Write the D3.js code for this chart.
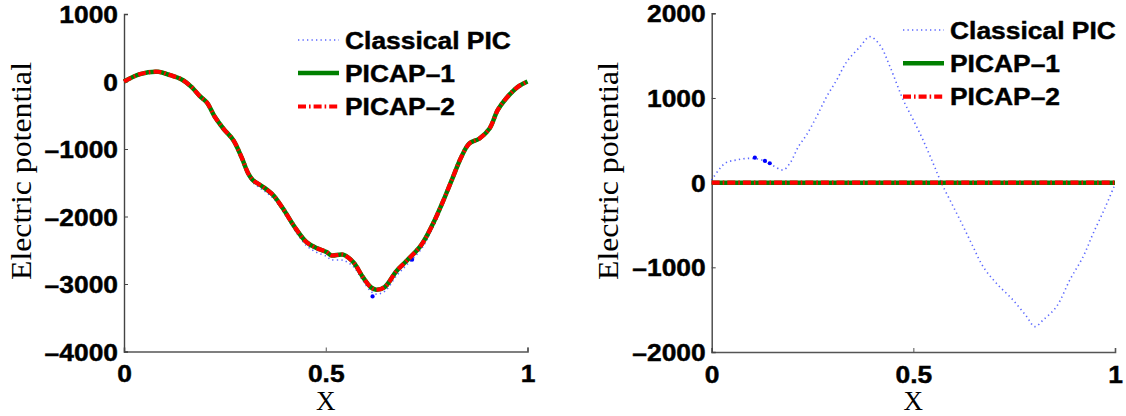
<!DOCTYPE html>
<html><head><meta charset="utf-8">
<script src="https://cdn.jsdelivr.net/npm/d3@7"></script>
<style>body{margin:0;background:#fff}</style>
</head><body>
<svg id="c" width="1126" height="416"></svg>
<script>
// ---------- data ----------
const seriesNames = ["Classical PIC", "PICAP\u20131", "PICAP\u20132"];

// Left panel
const leftX = [0, 0.04, 0.085, 0.114, 0.143, 0.167, 0.188, 0.206, 0.225, 0.246, 0.271, 0.291, 0.308, 0.320, 0.345, 0.370, 0.394, 0.423, 0.452, 0.477, 0.502, 0.514, 0.543, 0.568, 0.592, 0.612, 0.625, 0.646, 0.675, 0.700, 0.737, 0.766, 0.790, 0.815, 0.836, 0.856, 0.881, 0.906, 0.926, 0.947, 0.976, 1.0];
const leftClassical = [0, 110, 144, 95, 31, -79, -217, -320, -530, -705, -885, -1140, -1400, -1500, -1610, -1730, -1920, -2200, -2430, -2530, -2590, -2640, -2650, -2740, -2950, -3110, -3150, -3110, -2880, -2720, -2480, -2160, -1830, -1450, -1140, -935, -860, -710, -440, -262, -85, 0];
const leftPicap1 = [0, 110, 144, 95, 31, -79, -217, -316, -523, -696, -869, -1117, -1364, -1463, -1562, -1685, -1883, -2156, -2378, -2467, -2527, -2576, -2566, -2675, -2898, -3050, -3085, -3046, -2810, -2660, -2420, -2105, -1785, -1420, -1117, -918, -844, -696, -424, -251, -79, 0];
const leftPicap2 = leftPicap1.slice();
const leftMarkX = [0.616, 0.714];
const leftMarkV = [-3184, -2640];

// Right panel
const rightX = [0, 0.033, 0.062, 0.095, 0.124, 0.149, 0.177, 0.194, 0.215, 0.235, 0.260, 0.285, 0.310, 0.335, 0.368, 0.392, 0.417, 0.442, 0.475, 0.500, 0.524, 0.549, 0.570, 0.599, 0.624, 0.648, 0.673, 0.706, 0.747, 0.781, 0.801, 0.822, 0.855, 0.888, 0.921, 0.946, 0.975, 1.0];
const rightClassical = [30, 229, 268, 287, 268, 209, 150, 229, 425, 563, 779, 1015, 1213, 1429, 1606, 1724, 1626, 1370, 976, 740, 504, 229, -7, -283, -520, -756, -992, -1189, -1385, -1582, -1700, -1621, -1464, -1149, -874, -598, -300, -20];
const rightPicapX = [0, 1];
const rightPicap1 = [0, 0];
const rightPicap2 = [0, 0];
const rightMarkX = [0.107, 0.132, 0.144];
const rightMarkV = [295, 256, 229];

const xTicks = [0, 0.5, 1];
const xTickLabels = ["0", "0.5", "1"];
const leftYTicks = [1000, 0, -1000, -2000, -3000, -4000];
const rightYTicks = [2000, 1000, 0, -1000, -2000];

// ---------- drawing ----------
const svg = d3.select("#c");
svg.append("rect").attr("width", 1126).attr("height", 416).attr("fill", "#fff");

const BOLD = "'Liberation Sans', Arial, Helvetica, sans-serif";
const SERIF = "'Liberation Serif', 'Times New Roman', serif";

function stretch(sel, k) {
  sel.each(function () {
    const w = this.getComputedTextLength();
    this.setAttribute("textLength", w * k);
    this.setAttribute("lengthAdjust", "spacingAndGlyphs");
  });
}
function heavy(sel) {
  sel.attr("stroke", "#000").attr("stroke-width", 0.45).attr("paint-order", "stroke");
}
const fmt = v => (v < 0 ? "\u2013" + Math.abs(v) : String(v));

const styles = [
  { stroke: "#2233ff", width: 1.6, dash: "1.3,3.2", opacity: 0.75 },
  { stroke: "#008000", width: 4.5, dash: null, opacity: 1 },
  { stroke: "#ff0000", width: 4.2, dash: "8,3,1.6,3", opacity: 1 }
];

function panel(cfg) {
  const x = d3.scaleLinear().domain([0, 1]).range([cfg.x0, cfg.x1]);
  const y = d3.scaleLinear().domain(cfg.domain).range([cfg.yBot, cfg.yTop]);
  const g = svg.append("g");

  // axes
  const ax = g.append("g").attr("transform", `translate(0,${cfg.yBot})`)
    .call(d3.axisBottom(x).tickValues(xTicks).tickSize(-4).tickFormat((d, i) => xTickLabels[i]));
  ax.select(".domain").attr("stroke", "#555").attr("stroke-width", 1.6);
  ax.selectAll(".tick line").attr("stroke", "#555").attr("stroke-width", 1);
  ax.selectAll(".tick text").attr("font-family", BOLD).attr("font-weight", "bold")
    .attr("font-size", 24).attr("fill", "#000").attr("y", 30.5).attr("dy", 0);
  heavy(ax.selectAll(".tick text"));
  stretch(ax.selectAll(".tick text"), 1.1);

  const ay = g.append("g").attr("transform", `translate(${cfg.x0},0)`)
    .call(d3.axisLeft(y).tickValues(cfg.ticks).tickSize(-4).tickFormat(fmt));
  ay.select(".domain").attr("stroke", "#444").attr("stroke-width", 1.4);
  ay.selectAll(".tick line").attr("stroke", "#444").attr("stroke-width", 1);
  ay.selectAll(".tick text").attr("font-family", BOLD).attr("font-weight", "bold")
    .attr("font-size", 24).attr("fill", "#000").attr("x", -6).attr("dy", 8.6);
  heavy(ay.selectAll(".tick text"));
  stretch(ay.selectAll(".tick text"), 1.1);

  // titles
  g.append("text").attr("x", (cfg.x0 + cfg.x1) / 2).attr("y", 410)
    .attr("text-anchor", "middle").attr("font-family", SERIF).attr("font-size", 27)
    .text("X");
  const yl = g.append("text")
    .attr("transform", `translate(${cfg.x0 - 93.5},171) rotate(-90)`)
    .attr("text-anchor", "middle").attr("font-family", SERIF).attr("font-size", 29)
    .text("Electric potential");
  yl.attr("textLength", 218).attr("lengthAdjust", "spacingAndGlyphs");

  // lines
  const line = d3.line().x(d => x(d[0])).y(d => y(d[1])).curve(d3.curveCatmullRom.alpha(0.5));
  cfg.series.forEach((s, i) => {
    const st = styles[i];
    const pts = s.xs.map((v, j) => [v, s.vs[j]]);
    g.append("path").datum(pts).attr("d", line).attr("fill", "none")
      .attr("stroke", st.stroke).attr("stroke-width", st.width)
      .attr("stroke-dasharray", st.dash).attr("opacity", st.opacity)
      .attr("stroke-linejoin", "round");
    if (i === 0) {
      g.selectAll(null).data(cfg.markX).enter().append("circle")
        .attr("cx", d => x(d)).attr("cy", (d, j) => y(cfg.markV[j]))
        .attr("r", 2.1).attr("fill", "#0000ff");
    }
  });

  // legend
  cfg.legendRows.forEach((ry, i) => {
    const st = styles[i];
    g.append("line").attr("x1", cfg.legX).attr("x2", cfg.legX + 41)
      .attr("y1", ry).attr("y2", ry).attr("stroke", st.stroke)
      .attr("stroke-width", st.width).attr("stroke-dasharray", st.dash)
      .attr("opacity", st.opacity);
    const t = g.append("text").attr("x", cfg.legX + 47).attr("y", ry + 8.6)
      .attr("font-family", BOLD).attr("font-weight", "bold").attr("font-size", 24)
      .text(seriesNames[i]);
    heavy(t);
    stretch(t, 1.1);
  });
}

panel({
  x0: 124, x1: 527.5, yTop: 14, yBot: 351.5, domain: [-4000, 1000], ticks: leftYTicks,
  series: [
    { xs: leftX, vs: leftClassical },
    { xs: leftX, vs: leftPicap1 },
    { xs: leftX, vs: leftPicap2 }
  ],
  markX: leftMarkX, markV: leftMarkV,
  legX: 298, legendRows: [40, 73, 106.5]
});

panel({
  x0: 711.7, x1: 1115, yTop: 13.3, yBot: 352, domain: [-2000, 2000], ticks: rightYTicks,
  series: [
    { xs: rightX, vs: rightClassical },
    { xs: rightPicapX, vs: rightPicap1 },
    { xs: rightPicapX, vs: rightPicap2 }
  ],
  markX: rightMarkX, markV: rightMarkV,
  legX: 903, legendRows: [30, 63.3, 96.7]
});
</script>
</body></html>
